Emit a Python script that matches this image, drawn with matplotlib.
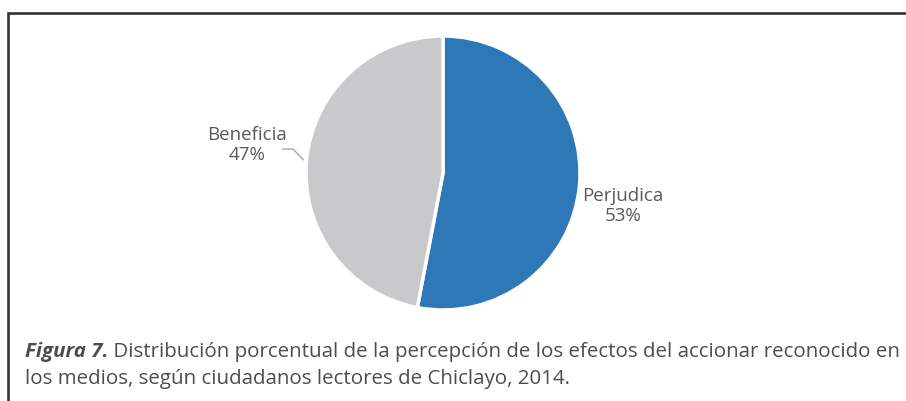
import numpy as np
import matplotlib
matplotlib.use("Agg")
from matplotlib import pyplot as plt
from matplotlib.lines import Line2D

# data
categories = ["Perjudica", "Beneficia"]
values = [53, 47]
colors = ["#2F78B8", "#C8C9CB"]

caption_bold = "Figura 7."
caption_line1 = " Distribución porcentual de la percepción de los efectos del accionar reconocido en"
caption_line2 = "los medios, según ciudadanos lectores de Chiclayo, 2014."

plt.rcParams['font.family'] = ['Open Sans', 'DejaVu Sans']
W, H = 906, 401
fig = plt.figure(figsize=(W / 100, H / 100), dpi=100)

# frame (only top / left visible in the crop)
fx, fy = 7.5 / W, (H - 12.5) / H
fig.add_artist(Line2D([fx, fx, 1.01], [-0.01, fy, fy], transform=fig.transFigure,
                      color="#333333", linewidth=1.9, solid_joinstyle="miter"))

# pie
cx, cy, r = 443, H - 173, 137
ax = fig.add_axes([(cx - r) / W, (cy - r) / H, 2 * r / W, 2 * r / H])
wedges, _ = ax.pie(values, colors=colors, startangle=90, counterclock=False,
                   wedgeprops=dict(edgecolor="white", linewidth=2.5))
ax.set_xlim(-1, 1)
ax.set_ylim(-1, 1)
ax.set_aspect("equal")
ax.axis("off")

txt_color = "#595959"
for w, cat, v in zip(wedges, categories, values):
    mid = np.deg2rad((w.theta1 + w.theta2) / 2)
    ux, uy = np.cos(mid), np.sin(mid)
    if ux > 0:
        ax.text(1.32 * ux, 1.32 * uy - 0.115, f"{cat}\n{v}%", ha="center", va="center",
                fontsize=13.5, color=txt_color, linespacing=1.15, clip_on=False)
    else:
        ax.text(1.44 * ux, 1.44 * uy + 0.07, f"{cat}\n{v}%", ha="center", va="center",
                fontsize=13.5, color=txt_color, linespacing=1.15, clip_on=False)
        # leader line
        ex, ey = 1.025 * ux, 1.025 * uy
        ax.plot([-1.17, -1.095, ex], [0.175, 0.175, ey], color="#A6A6A6",
                linewidth=1.0, clip_on=False)

# caption
cap_color = "#4D4D4D"
t1 = fig.text(25 / W, (H - 357) / H, caption_bold, fontsize=14.75, fontweight="bold",
              fontstyle="italic", color=cap_color, va="baseline")
fig.canvas.draw()
bb = t1.get_window_extent(renderer=fig.canvas.get_renderer())
fig.text(bb.x1 / W, (H - 357) / H, caption_line1, fontsize=14.75, color=cap_color,
         va="baseline")
fig.text(25 / W, (H - 384) / H, caption_line2, fontsize=14.75, color=cap_color,
         va="baseline")

fig.savefig("out.png", dpi=100)
